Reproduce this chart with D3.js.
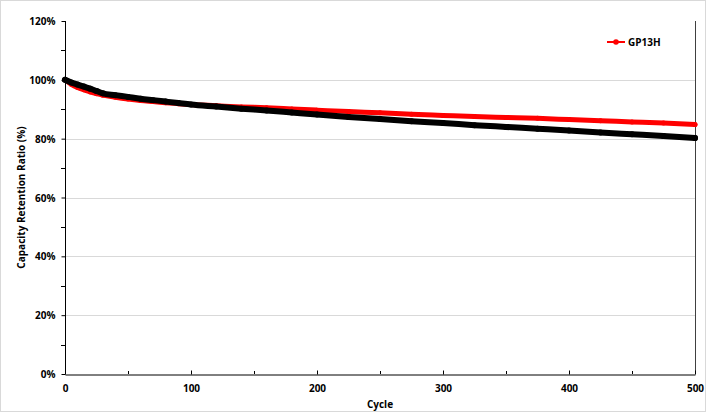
<!DOCTYPE html>
<html>
<head>
<meta charset="utf-8">
<script src="https://cdn.jsdelivr.net/npm/d3@7"></script>
<style>
html,body{margin:0;padding:0;background:#fff;}
svg text{font-family:"Open Sans","Noto Sans",sans-serif;font-weight:bold;fill:#000;}
</style>
</head>
<body>
<svg id="c" width="710" height="414"></svg>
<script>
// Data
const cycles = [0,5,10,15,20,25,30,40,50,60,70,80,90,100,120,140,160,180,200,225,250,275,300,325,350,375,400,425,450,475,500];
const gp13h  = [100,98.5,97.4,96.6,95.9,95.3,94.8,94.1,93.5,93.0,92.6,92.2,91.9,91.6,91.2,90.8,90.5,90.1,89.7,89.2,88.8,88.3,87.9,87.5,87.2,86.9,86.5,86.1,85.7,85.3,84.8];
const other  = [100,99.1,98.4,97.7,97.0,96.2,95.4,94.8,94.2,93.6,93.1,92.6,92.1,91.6,90.9,90.2,89.6,88.9,88.2,87.4,86.7,85.9,85.3,84.6,84.0,83.4,82.8,82.1,81.5,80.9,80.2];
const yTicks = [0,20,40,60,80,100,120];
const xTicks = [0,100,200,300,400,500];
const seriesName = "GP13H";

const svg = d3.select("#c");
const L = 65, R = 695, T = 21, B = 374;
const x = d3.scaleLinear().domain([0,500]).range([L,R]);
const y = d3.scaleLinear().domain([0,120]).range([B,T]);

// outer chart border
svg.append("rect").attr("x",0.5).attr("y",0.5).attr("width",705).attr("height",411)
  .attr("fill","#fff").attr("stroke","#d9d9d9");

// gridlines
svg.append("g").selectAll("line").data(yTicks.filter(d=>d>0&&d<120)).join("line")
  .attr("x1",L).attr("x2",R).attr("y1",d=>Math.round(y(d))+0.5).attr("y2",d=>Math.round(y(d))+0.5)
  .attr("stroke","#d9d9d9").attr("stroke-width",1);

// right border
svg.append("line").attr("x1",R+0.5).attr("x2",R+0.5).attr("y1",T).attr("y2",B)
  .attr("stroke","#404040").attr("stroke-width",1);

// series
const line = d3.line().x((d,i)=>x(cycles[i])).y(d=>y(d)).curve(d3.curveMonotoneX);
function drawSeries(vals,color,w){
  const g = svg.append("g");
  g.append("path").datum(vals).attr("d",line).attr("fill","none")
    .attr("stroke",color).attr("stroke-width",w).attr("stroke-linecap","round").attr("stroke-linejoin","round");
  g.selectAll("circle").data(vals).join("circle")
    .attr("cx",(d,i)=>x(cycles[i])).attr("cy",d=>y(d)).attr("r",w/2).attr("fill",color);
}
drawSeries(gp13h,"#ff0000",5);
drawSeries(other,"#000000",6);

// y axis
const yAxis = d3.axisLeft(y).tickValues(yTicks).tickFormat(d=>d+"%").tickSize(4).tickPadding(6);
const gy = svg.append("g").attr("transform",`translate(${L+0.5},0)`).call(yAxis);
gy.select(".domain").attr("stroke","#000").attr("d",`M0,${T}V${B}`);
gy.selectAll(".tick text").attr("font-size","10px").attr("dy","0.35em").attr("font-weight","bold");
gy.selectAll(".tick line").attr("stroke","#000");
// minor y ticks
svg.append("g").selectAll("line").data(d3.range(10,120,20)).join("line")
  .attr("x1",L-4).attr("x2",L).attr("y1",d=>Math.round(y(d))+0.5).attr("y2",d=>Math.round(y(d))+0.5)
  .attr("stroke","#000");

// x axis
const xAxis = d3.axisBottom(x).tickValues(xTicks).tickFormat(d3.format("d")).tickSizeInner(-4).tickSizeOuter(0).tickPadding(10);
const gx = svg.append("g").attr("transform",`translate(0,${B+0.5})`).call(xAxis);
gx.select(".domain").attr("stroke","#000");
gx.selectAll(".tick line").attr("stroke","#000");
gx.selectAll(".tick text").attr("font-size","10px").attr("font-weight","bold");
// minor x ticks
svg.append("g").selectAll("line").data(d3.range(50,500,100)).join("line")
  .attr("x1",d=>Math.round(x(d))+0.5).attr("x2",d=>Math.round(x(d))+0.5).attr("y1",B-3).attr("y2",B)
  .attr("stroke","#000");

// axis titles
svg.append("text").attr("x",(L+R)/2).attr("y",408).attr("text-anchor","middle")
  .attr("font-size","10px").text("Cycle");
svg.append("text").attr("transform",`translate(25,${(T+B)/2}) rotate(-90)`).attr("text-anchor","middle")
  .attr("font-size","10px").text("Capacity Retention Ratio (%)");

// legend
const lg = svg.append("g").attr("transform","translate(607,42)");
lg.append("line").attr("x1",0).attr("x2",18).attr("y1",0).attr("y2",0).attr("stroke","#ff0000").attr("stroke-width",2);
lg.append("circle").attr("cx",9).attr("cy",0).attr("r",2.8).attr("fill","#ff0000");
lg.append("text").attr("x",21).attr("y",0).attr("dy","0.35em").attr("font-size","10px").text(seriesName);
</script>
</body>
</html>
